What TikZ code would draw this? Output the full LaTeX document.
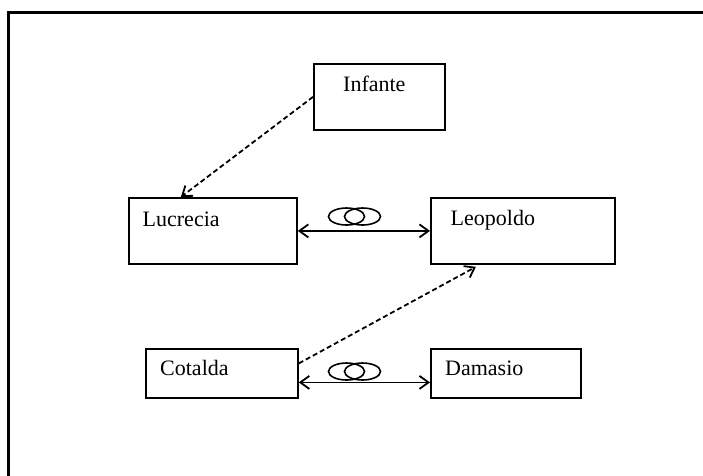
\documentclass[tikz,border=0pt]{standalone}
\usepackage{fontspec}
\setmainfont{Liberation Serif}
\usetikzlibrary{arrows.meta,shapes.geometric}
\begin{document}
\begin{tikzpicture}[x=1pt,y=-1pt,
  person/.style={draw,line width=1.8pt,rectangle,anchor=north west,inner sep=0pt},
  nametext/.style={anchor=base west,inner sep=0pt,font=\fontsize{22}{26}\selectfont},
  ring/.style={draw,line width=1.6pt,ellipse,inner sep=0pt,minimum width=36pt,minimum height=17pt},
  marriage/.style={line width=1.8pt,{Straight Barb[length=9pt,width=13pt]}-{Straight Barb[length=9pt,width=13pt]}},
  descent/.style={line width=1.8pt,dash pattern=on 5pt off 3pt,-{Straight Barb[length=9pt,width=13pt]}}]
\useasboundingbox (0,0) rectangle (703,475);
% outer frame (runs past the page on the right and bottom)
\draw[line width=3pt] (8.7,490) -- (8.7,12.5) -- (720,12.5);

% family boxes
\node[person,minimum width=131pt,minimum height=66pt] (infante) at (313,63) {};
\node[person,minimum width=168pt,minimum height=66pt] (lucrecia) at (128,197) {};
\node[person,minimum width=184pt,minimum height=66pt] (leopoldo) at (430,197) {};
\node[person,minimum width=152pt,minimum height=49pt] (cotalda) at (145,348) {};
\node[person,minimum width=150pt,minimum height=49pt] (damasio) at (430,348) {};

% names
\node[nametext] (tInfante) at (343,91) {Infante};
\node[nametext] (tLucrecia) at (142.5,226) {Lucrecia};
\node[nametext] (tLeopoldo) at (450.5,225) {Leopoldo};
\node[nametext] (tCotalda) at (160,375.7) {Cotalda};
\node[nametext] (tDamasio) at (445,375.7) {Damasio};

% marriage rings
\node[ring] (ringA1) at (346.5,216.5) {};
\node[ring] (ringA2) at (362.5,216.5) {};
\node[ring] (ringB1) at (346.5,371.5) {};
\node[ring] (ringB2) at (362.5,371.5) {};

% connectors
\draw[marriage] (lucrecia.east) -- (leopoldo.west);
\draw[marriage] ([yshift=-9pt]cotalda.east) -- ([yshift=-9pt]damasio.west);
\draw[descent] (infante.west) -- ([xshift=-32pt]lucrecia.north);
\draw[descent] ([yshift=10pt]cotalda.east) -- ([xshift=-47pt,yshift=-2pt]leopoldo.south);
\end{tikzpicture}
\end{document}
